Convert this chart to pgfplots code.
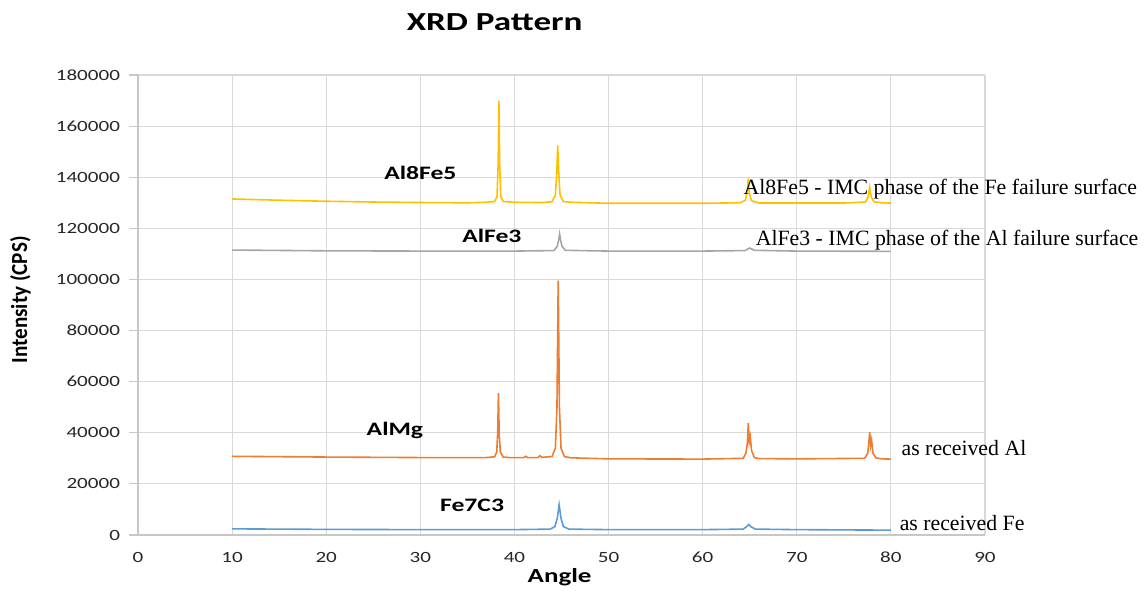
\documentclass[border=0pt]{standalone}
\usepackage{pgfplots}
\pgfplotsset{compat=1.18}
\usepackage{fontspec}
\setmainfont{Liberation Serif}
\newfontfamily\carl[FakeStretch=1.35]{Carlito}
\newfontfamily\carlc[FakeStretch=0.92]{Carlito}
\definecolor{cY}{HTML}{FFC000}
\definecolor{cG}{HTML}{A5A5A5}
\definecolor{cO}{HTML}{ED7D31}
\definecolor{cB}{HTML}{5B9BD5}
\definecolor{gridc}{HTML}{D9D9D9}
\begin{document}
\begin{tikzpicture}
\begin{axis}[
  at={(0pt,0pt)}, anchor=south west,
  scale only axis, width=423.5pt, height=230pt,
  xmin=0, xmax=90, ymin=0, ymax=180000,
  xtick={0,10,...,90}, ytick={0,20000,...,180000},
  grid=major, grid style={gridc, line width=0.6pt},
  axis lines=left, axis line style={gridc!80!gray, line width=0.6pt, -},
  tick align=outside,
  xtick style={draw=none},
  ytick style={gridc!80!gray, line width=0.6pt},
  major tick length=4.5pt,
  scaled y ticks=false,
  /pgf/number format/fixed,
  /pgf/number format/precision=0,
  /pgf/number format/assume math mode=true,
  /pgf/number format/set thousands separator={},
  ticklabel style={font=\carl\fontsize{7.8}{9}\selectfont, text=black!85},
  yticklabel style={xshift=-1pt},
  xticklabel style={yshift=-0.5pt},
  clip=false,
]
% Al8Fe5 (yellow)
\addplot[cY, line width=0.8pt] coordinates {
(10,131500) (15,131000) (20,130600) (25,130300) (30,130100) (35,130000) (37,130200) (37.9,130500)
(38.15,132500) (38.27,145000) (38.35,170000) (38.43,145000) (38.55,132500) (38.8,130500) (40,130200)
(43,130100) (44.0,130400) (44.35,133000) (44.5,142000) (44.6,152500) (44.7,142000) (44.85,133000) (45.2,130500) (46,130200)
(50,129800) (55,129800) (60,129800) (64,130000) (64.55,131000) (64.75,135000) (64.85,139500) (64.95,134000) (65.2,130800)
(66,129900) (70,129900) (75,129900) (77.3,130300) (77.6,132500) (77.75,136000) (77.9,132500)
(78.2,130400) (79,130000) (80,129900)};
% AlFe3 (grey)
\addplot[cG, line width=0.8pt] coordinates {
(10,111500) (20,111200) (30,111100) (40,111100) (44.2,111300) (44.55,113000) (44.7,115500) (44.8,117800)
(44.9,115500) (45.05,113000) (45.4,111400) (50,111100) (60,111100) (64.5,111300) (65,112300) (65.5,111400)
(70,111100) (80,111000)};
% AlMg (orange)
\addplot[cO, line width=0.8pt] coordinates {
(10,30800) (20,30500) (30,30300) (37,30300) (37.9,30600) (38.12,32500) (38.22,40000) (38.3,55500) (38.38,40000)
(38.5,32500) (38.8,30500) (39.5,30300) (41,30300) (41.2,30800) (41.4,30300) (42.5,30300) (42.7,31000) (42.9,30400)
(44.0,30700) (44.35,34000) (44.52,50000) (44.65,99500) (44.78,50000) (44.95,34000) (45.3,30700) (46,30200) (50,29800) (60,29700)
(64.3,30000) (64.6,32000) (64.75,36000) (64.85,43800) (64.95,36500) (65.05,38500) (65.2,33000) (65.5,30300) (66,29900) (70,29800)
(77.2,30000) (77.55,32000) (77.75,40200) (77.85,35000) (77.95,37000) (78.1,32000) (78.4,30200) (79,29800) (80,29700)};
% Fe7C3 (blue)
\addplot[cB, line width=0.8pt] coordinates {
(10,2400) (20,2200) (30,2100) (40,2100) (43.8,2300) (44.3,3300) (44.55,6500) (44.75,11800)
(44.95,6500) (45.2,3300) (45.8,2300) (50,2100) (60,2100) (64.3,2300) (64.65,3200) (64.9,4100) (65.15,3200) (65.6,2300)
(70,2100) (80,1900)};
% labels
\node[font=\carl\bfseries\fontsize{13}{15}\selectfont] at (axis cs:37.9,200700) {XRD Pattern};
\node[font=\carl\bfseries\fontsize{10}{12}\selectfont] at (axis cs:44.8,-16400) {Angle};
\node[font=\carlc\bfseries\fontsize{11.5}{13}\selectfont, rotate=90] at (axis cs:-12.5,92000) {Intensity (CPS)};
\node[font=\carl\bfseries\fontsize{9.5}{11}\selectfont] at (axis cs:30.0,141600) {Al8Fe5};
\node[font=\carl\bfseries\fontsize{9.5}{11}\selectfont] at (axis cs:37.6,117000) {AlFe3};
\node[font=\carl\bfseries\fontsize{9.5}{11}\selectfont] at (axis cs:27.3,41100) {AlMg};
\node[font=\carl\bfseries\fontsize{9.5}{11}\selectfont] at (axis cs:35.5,11700) {Fe7C3};
\node[font=\fontsize{10.9}{12}\selectfont, anchor=west, inner sep=0pt] at (axis cs:64.3,135400) {Al8Fe5 - IMC phase of the Fe failure surface};
\node[font=\fontsize{10.9}{12}\selectfont, anchor=west, inner sep=0pt] at (axis cs:65.6,115400) {AlFe3 - IMC phase of the Al failure surface};
\node[font=\fontsize{10.9}{12}\selectfont, anchor=west, inner sep=0pt] at (axis cs:81.1,34000) {as received Al};
\node[font=\fontsize{10.9}{12}\selectfont, anchor=west, inner sep=0pt] at (axis cs:80.9,4700) {as received Fe};
\end{axis}
\path[use as bounding box] (-69pt,-26pt) rectangle (505pt,267.5pt);
\end{tikzpicture}
\end{document}
